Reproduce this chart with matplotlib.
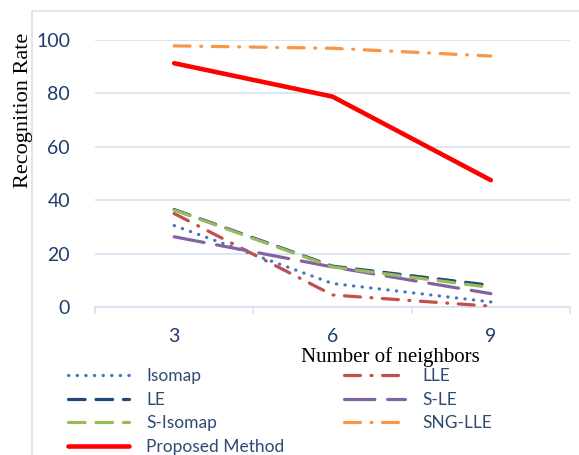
import matplotlib.pyplot as plt
from matplotlib.lines import Line2D
from matplotlib.patches import Rectangle

# data
neighbors = ["3", "6", "9"]
isomap = [30.5, 8.8, 1.9]
lle = [35.0, 4.5, 0.3]
le = [36.5, 15.3, 8.1]
s_le = [26.3, 15.0, 5.0]
s_isomap = [36.3, 15.0, 7.3]
sng_lle = [97.8, 96.9, 94.0]
proposed = [91.3, 78.8, 47.5]

W, H = 579, 455
fig = plt.figure(figsize=(W / 100, H / 100), dpi=100)

def fx(px):
    return px / W

def fy(py):
    return 1 - py / H

# light outer chart frame
fig.patches.append(Rectangle((fx(32), fy(500)), 1.2, fy(11) - fy(500), transform=fig.transFigure,
                             fill=False, edgecolor="#D6E2F0", lw=1.2))

ax = fig.add_axes([fx(95), fy(307), fx(570) - fx(95), fy(40) - fy(307)])

x = [0, 1, 2]
dot = (0, (0.1, 2.6))
dashdot = (0, (5, 3.3, 0.3, 3.3))
dash = (0, (5.2, 3.4))
longdash = (0, (9.5, 4))
series = [
    ("Isomap", isomap, "#4472C4", dot, 2.3),
    ("LLE", lle, "#C0504D", dashdot, 2.3),
    ("LE", le, "#1F497D", dash, 2.3),
    ("S-LE", s_le, "#8064A2", longdash, 2.3),
    ("S-Isomap", s_isomap, "#9BBB59", dash, 2.3),
    ("SNG-LLE", sng_lle, "#F79646", dashdot, 2.3),
    ("Proposed Method", proposed, "#FF0000", "-", 3.3),
]
styles = {}
for name, vals, col, ls, lw in series:
    ax.plot(x, vals, color=col, linestyle=ls, lw=lw, dash_capstyle="round",
            solid_capstyle="round", zorder=3)
    styles[name] = (col, ls, lw)

ax.set_xlim(-0.5, 2.5)
ax.set_ylim(0, 100)
ax.set_yticks(range(0, 101, 20))
ax.grid(axis="y", color="#D6E2F0", lw=1.2)
ax.set_axisbelow(True)
for s in ["top", "right", "left"]:
    ax.spines[s].set_visible(False)
ax.spines["bottom"].set_color("#D6E2F0")
ax.spines["bottom"].set_linewidth(1.2)
ax.tick_params(axis="y", length=0, pad=18, labelsize=14, labelcolor="#1F3D6B")
ax.set_xticks(x)
ax.set_xticklabels(neighbors)
ax.tick_params(axis="x", length=0, pad=15, labelsize=14, labelcolor="#1F3D6B")
for b in [-0.5, 0.5, 1.5, 2.5]:
    ax.plot([b, b], [0, -2.3], color="#D6E2F0", lw=1.2, clip_on=False)
for lab in ax.get_xticklabels() + ax.get_yticklabels():
    lab.set_family("Lato")

fig.text(fx(24), fy(110), "Recognition Rate", rotation=90, ha="center", va="center",
         family="Liberation Serif", fontsize=16)
fig.text(fx(390), fy(357), "Number of neighbors", ha="center", va="center",
         family="Liberation Serif", fontsize=15)

def make_leg(names, px, py):
    h = [Line2D([], [], color=styles[n][0], linestyle=styles[n][1], lw=styles[n][2],
                dash_capstyle="round", solid_capstyle="round") for n in names]
    leg = fig.legend(h, names, loc="upper left", bbox_to_anchor=(fx(px), fy(py)), frameon=False,
                     handlelength=3.5, handletextpad=1.0, labelspacing=0.44, borderpad=0,
                     borderaxespad=0, prop={"family": "Lato", "size": 12.5})
    for t in leg.get_texts():
        t.set_color("#2E4A73")
    return leg

make_leg(["Isomap", "LE", "S-Isomap", "Proposed Method"], 68, 368)
make_leg(["LLE", "S-LE", "SNG-LLE"], 344, 368)

fig.savefig("out.png", dpi=100)
